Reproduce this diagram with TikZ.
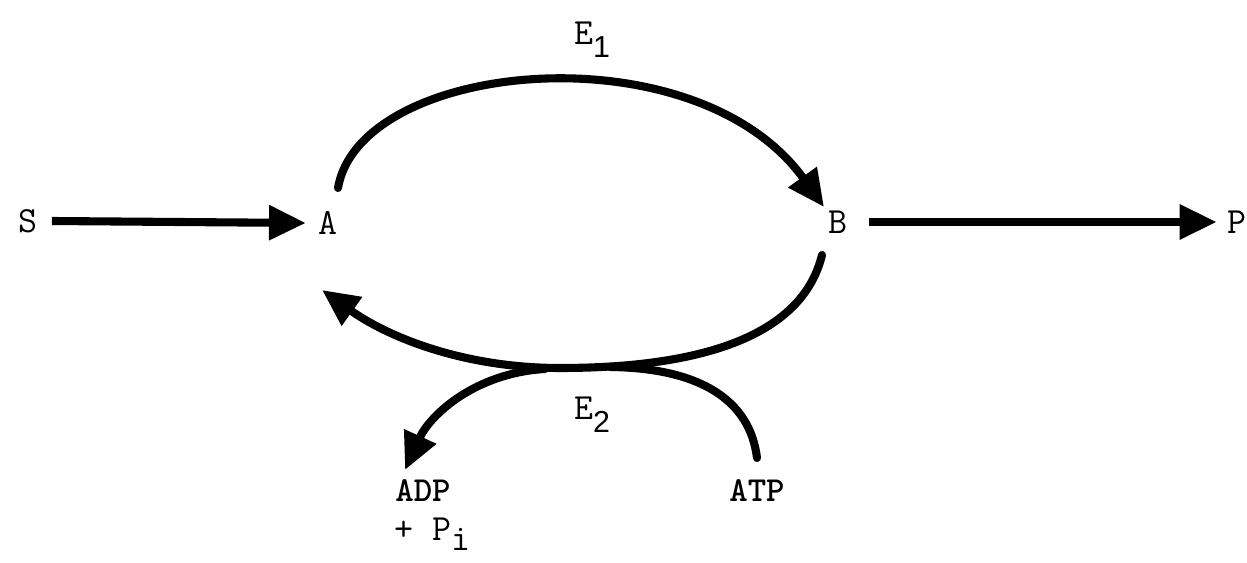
\documentclass[tikz,border=0pt]{standalone}
\usepackage{fontspec}
\setsansfont{Liberation Sans}
\usetikzlibrary{arrows.meta,positioning}

\begin{document}
\begin{tikzpicture}[
  x=0.02cm, y=-0.02cm,
  species/.style={inner sep=0pt,font=\fontsize{21}{21}\selectfont\ttfamily},
  cofactor/.style={inner sep=0pt,font=\fontsize{20}{22}\selectfont\ttfamily\bfseries},
  flow/.style={-{Triangle[length=21pt,width=19pt]},line width=4.6pt},
  arc/.style={line width=4.6pt,line cap=round}
]
\useasboundingbox (0,0) rectangle (1247,563);
% species
\node[species] (S) at (28,221) {S};
\node[species] (A) at (328,223) {A};
\node[species] (B) at (838,222) {B};
\node[species] (P) at (1237,222) {P};
\node[species] (E1) at (592,40) {E\raisebox{-0.8ex}{\sffamily\LARGE 1}};
\node[species] (E2) at (592,415) {E\raisebox{-0.8ex}{\sffamily\LARGE 2}};
\node[cofactor] (ADP) at (423,491) {ADP};
\node[species] (Pi) at (432,534) {+ P\raisebox{-0.6ex}{i}};
\node[cofactor] (ATP) at (757,491) {ATP};
% arc end points
\coordinate (top) at (338,188);
\coordinate (topend) at (824,207);
\coordinate (bot) at (822,255);
\coordinate (botend) at (322,290);
\coordinate (low) at (560,368);
\coordinate (atp) at (757,458);
\coordinate (merge) at (610,367);
\coordinate (split) at (545,369);
\coordinate (adp) at (405,470);
% linear steps
\draw[flow] ([xshift=8pt]S.east) -- ([xshift=-7pt]A.west);
\draw[flow] ([xshift=12pt]B.east) -- ([xshift=-6pt]P.west);
% cycle
\draw[flow,line cap=round] (top) .. controls (360,60) and (695,28) .. (topend);
\draw[flow,line cap=round] (bot) .. controls (800,345) and (680,368) .. (low)
  .. controls (460,368) and (385,335) .. (botend);
% ATP -> ADP
\draw[arc] (atp) .. controls (750,400) and (700,368) .. (merge);
\draw[flow,line cap=round] (split) .. controls (475,373) and (430,415) .. (adp);
\end{tikzpicture}
\end{document}
